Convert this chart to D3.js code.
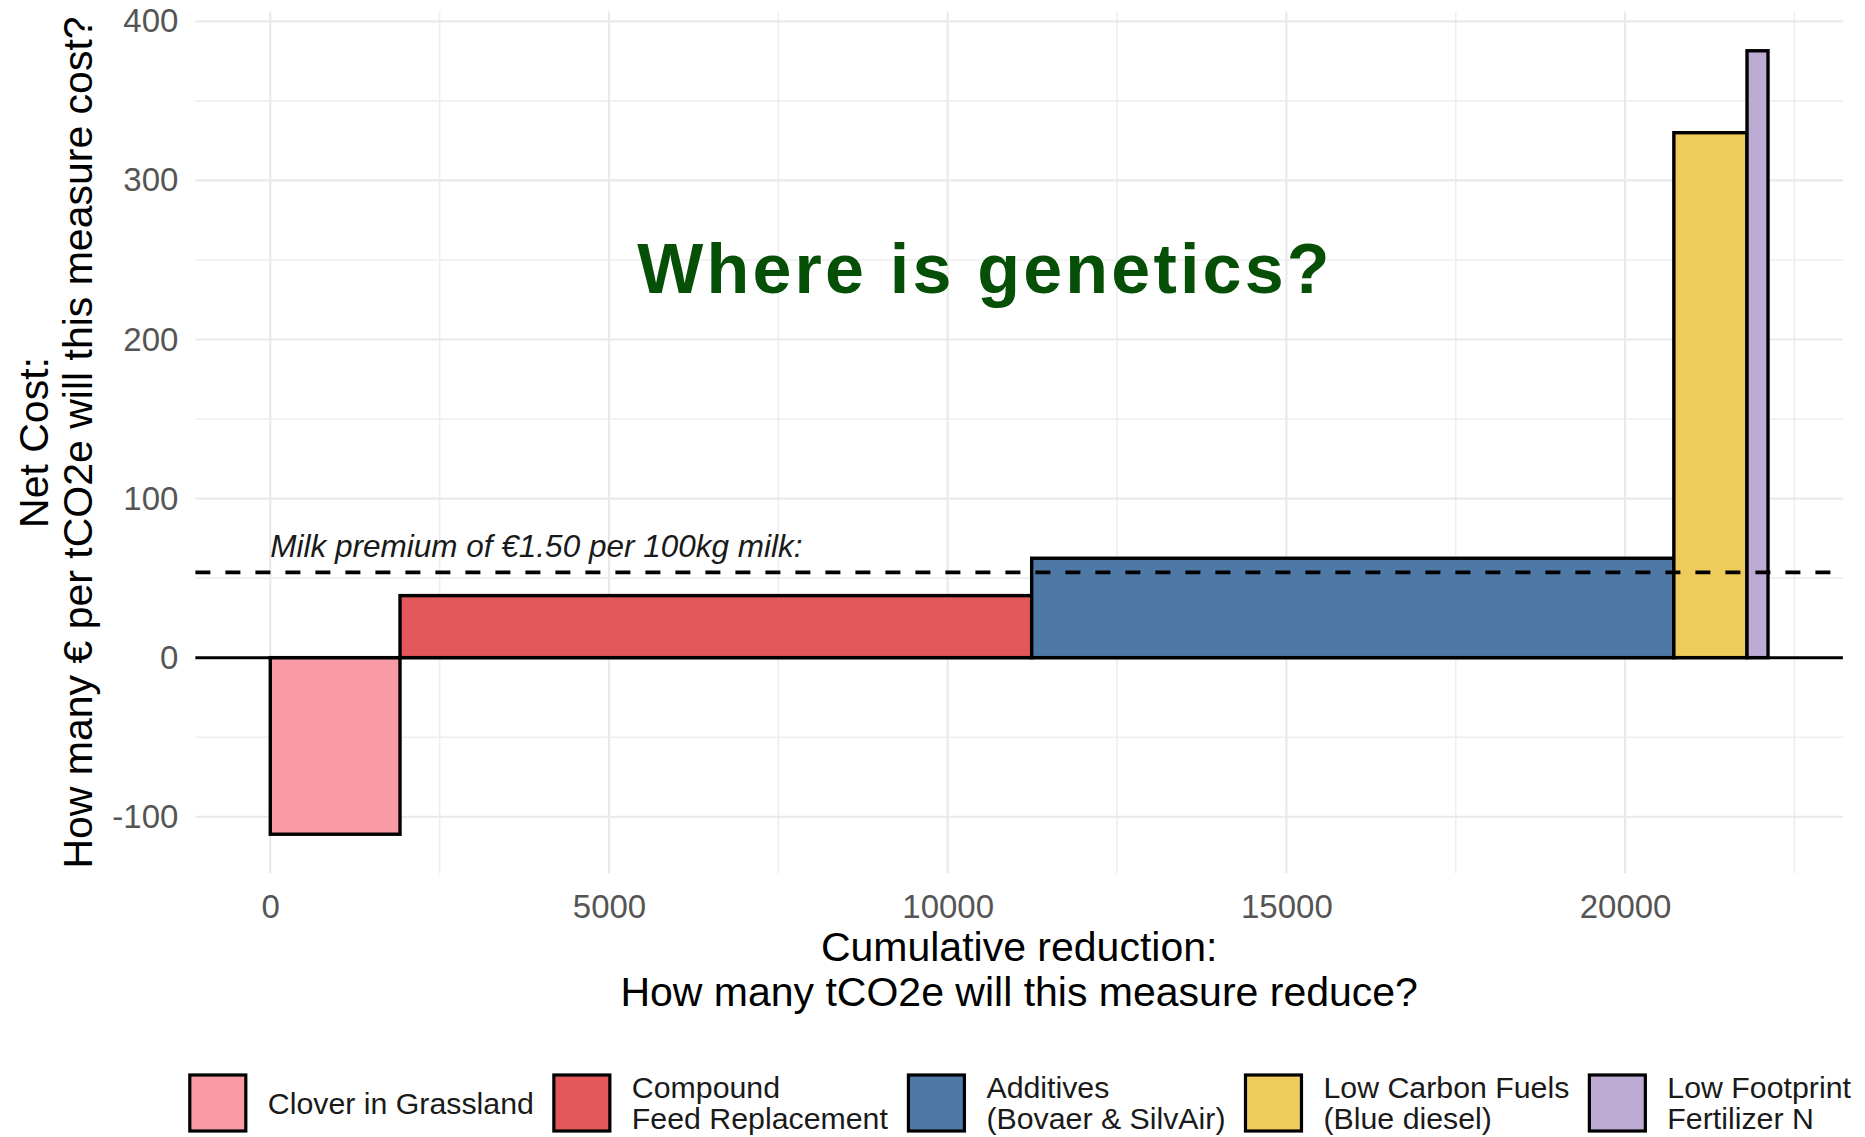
<!DOCTYPE html>
<html>
<head>
<meta charset="utf-8">
<script src="https://cdn.jsdelivr.net/npm/d3@7"></script>
<style>
  html, body { margin: 0; padding: 0; background: #ffffff; }
  svg { display: block; }
  text { font-family: "Liberation Sans", Arial, sans-serif; }
</style>
</head>
<body>
<svg id="chart" width="1865" height="1137"></svg>
<script>
// Marginal abatement cost curve: each measure is a bar whose width is the
// reduction it delivers (tCO2e) and whose height is its net cost per tCO2e.
const measures = [
  "Clover in Grassland",
  "Compound Feed Replacement",
  "Additives (Bovaer & SilvAir)",
  "Low Carbon Fuels (Blue diesel)",
  "Low Footprint Fertilizer N"
];
const legendLines = [
  ["Clover in Grassland"],
  ["Compound", "Feed Replacement"],
  ["Additives", "(Bovaer & SilvAir)"],
  ["Low Carbon Fuels", "(Blue diesel)"],
  ["Low Footprint", "Fertilizer N"]
];
const reductions = [1915, 9325, 9480, 1080, 310];      // tCO2e per measure
const netCosts   = [-111, 39, 62.5, 330, 381.5];       // € per tCO2e
const fills      = ["#F89BA4", "#E1575A", "#4E79A7", "#EFCB5C", "#BDABD3"];
const xTicks      = [0, 5000, 10000, 15000, 20000];
const xMinorTicks = [2500, 7500, 12500, 17500, 22500];
const yTicks      = [-100, 0, 100, 200, 300, 400];
const yMinorTicks = [-50, 50, 150, 250, 350];
const milkPremium = 53.6;
const premiumLabel = "Milk premium of €1.50 per 100kg milk:";
const headline = "Where is genetics?";
const xTitle = ["Cumulative reduction:", "How many tCO2e will this measure reduce?"];
const yTitle = ["Net Cost:", "How many € per tCO2e will this measure cost?"];

const svg = d3.select("#chart");
const panel = { left: 195.4, right: 1842.9, top: 11.6, bottom: 873.4 };

// bar extents from cumulative reductions
const ends = Array.from(d3.cumsum(reductions));
const bars = measures.map((m, i) => ({
  name: m, x0: i === 0 ? 0 : ends[i - 1], x1: ends[i], cost: netCosts[i], fill: fills[i]
}));

const xMax = ends[ends.length - 1];
const xPad = 0.05 * xMax;
const x = d3.scaleLinear().domain([-xPad, xMax + xPad]).range([panel.left, panel.right]);

const yMin = d3.min(netCosts), yMax = d3.max(netCosts);
const yPad = 0.05 * (yMax - yMin);
const y = d3.scaleLinear().domain([yMin - yPad, yMax + yPad]).range([panel.bottom, panel.top]);

// grid
const grid = svg.append("g");
grid.selectAll("line.vmin").data(xMinorTicks).join("line")
  .attr("x1", d => x(d)).attr("x2", d => x(d))
  .attr("y1", panel.top).attr("y2", panel.bottom)
  .attr("stroke", "#eeeeee").attr("stroke-width", 1.6);
grid.selectAll("line.hmin").data(yMinorTicks).join("line")
  .attr("x1", panel.left).attr("x2", panel.right)
  .attr("y1", d => y(d)).attr("y2", d => y(d))
  .attr("stroke", "#eeeeee").attr("stroke-width", 1.6);
grid.selectAll("line.vmaj").data(xTicks).join("line")
  .attr("x1", d => x(d)).attr("x2", d => x(d))
  .attr("y1", panel.top).attr("y2", panel.bottom)
  .attr("stroke", "#e9e9e9").attr("stroke-width", 2.2);
grid.selectAll("line.hmaj").data(yTicks).join("line")
  .attr("x1", panel.left).attr("x2", panel.right)
  .attr("y1", d => y(d)).attr("y2", d => y(d))
  .attr("stroke", "#e9e9e9").attr("stroke-width", 2.2);

// bars
svg.append("g").selectAll("rect").data(bars).join("rect")
  .attr("x", d => x(d.x0))
  .attr("width", d => x(d.x1) - x(d.x0))
  .attr("y", d => y(Math.max(0, d.cost)))
  .attr("height", d => Math.abs(y(d.cost) - y(0)))
  .attr("fill", d => d.fill)
  .attr("stroke", "#000").attr("stroke-width", 3.4);

// zero line
svg.append("line")
  .attr("x1", panel.left).attr("x2", panel.right)
  .attr("y1", y(0)).attr("y2", y(0))
  .attr("stroke", "#000").attr("stroke-width", 3);

// milk premium reference
svg.append("line")
  .attr("x1", panel.left).attr("x2", panel.right)
  .attr("y1", y(milkPremium)).attr("y2", y(milkPremium))
  .attr("stroke", "#000").attr("stroke-width", 3.6)
  .attr("stroke-dasharray", "15,15");
svg.append("text")
  .attr("x", x(0)).attr("y", y(milkPremium) - 15)
  .attr("font-size", 31.5).attr("font-style", "italic").attr("fill", "#1a1a1a")
  .text(premiumLabel);

// axes
const yAxis = d3.axisLeft(y).tickValues(yTicks).tickSize(0).tickPadding(17)
  .tickFormat(d => d3.format("d")(d).replace("−", "-"));
const gy = svg.append("g").attr("transform", `translate(${panel.left},0)`).call(yAxis);
gy.select(".domain").remove();
gy.selectAll("text").attr("font-size", 33).attr("fill", "#555555")
  .attr("font-family", "'Liberation Sans', Arial, sans-serif");

const xAxis = d3.axisBottom(x).tickValues(xTicks).tickSize(0).tickPadding(21)
  .tickFormat(d3.format("d"));
const gx = svg.append("g").attr("transform", `translate(0,${panel.bottom})`).call(xAxis);
gx.select(".domain").remove();
gx.selectAll("text").attr("font-size", 33).attr("fill", "#555555")
  .attr("font-family", "'Liberation Sans', Arial, sans-serif");

// axis titles
const cx = (panel.left + panel.right) / 2;
const cy = (panel.top + panel.bottom) / 2;
svg.append("g").selectAll("text").data(xTitle).join("text")
  .attr("x", cx).attr("y", (d, i) => 961 + i * 45)
  .attr("text-anchor", "middle").attr("font-size", 41).attr("fill", "#000")
  .text(d => d);
svg.append("g").selectAll("text").data(yTitle).join("text")
  .attr("transform", (d, i) => `translate(${48 + i * 44},${cy}) rotate(-90)`)
  .attr("text-anchor", "middle").attr("font-size", 41).attr("fill", "#000")
  .text(d => d);

// headline
svg.append("text")
  .attr("x", 985).attr("y", 293)
  .attr("text-anchor", "middle")
  .attr("font-size", 70).attr("font-weight", "bold")
  .attr("letter-spacing", 3.2)
  .attr("fill", "#064f06")
  .text(headline);

// legend, centred under the panel
const keySize = 56, keyGap = 22, itemGap = 20, legendCy = 1103, lineH = 31;
const legend = svg.append("g");
const items = legendLines.map((lines, i) => {
  const g = legend.append("g");
  g.append("rect")
    .attr("x", 0).attr("y", legendCy - keySize / 2)
    .attr("width", keySize).attr("height", keySize)
    .attr("fill", fills[i]).attr("stroke", "#000").attr("stroke-width", 3.2);
  const t = g.append("text").attr("font-size", 30.3).attr("fill", "#1a1a1a");
  lines.forEach((ln, j) => {
    t.append("tspan")
      .attr("x", keySize + keyGap)
      .attr("y", legendCy + (j - (lines.length - 1) / 2) * lineH + 10.5)
      .text(ln);
  });
  const w = keySize + keyGap + t.node().getBBox().width;
  return { g, w };
});
const totalW = d3.sum(items, d => d.w) + itemGap * (items.length - 1);
let lx = cx - totalW / 2 + 1.5;
items.forEach(it => {
  it.g.attr("transform", `translate(${lx},0)`);
  lx += it.w + itemGap;
});
</script>
</body>
</html>
